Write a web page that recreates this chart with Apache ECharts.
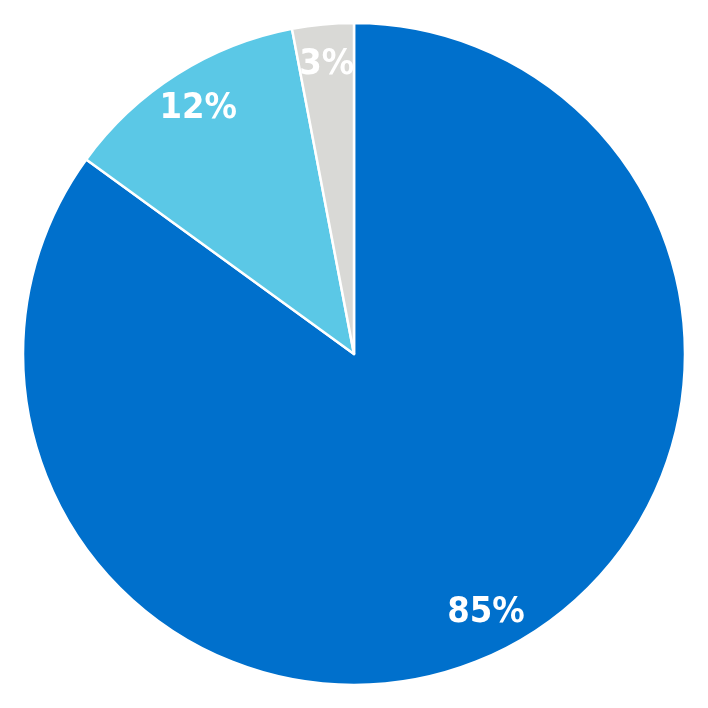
<!DOCTYPE html>
<html><head><meta charset="utf-8">
<script src="https://cdn.jsdelivr.net/npm/echarts@6/dist/echarts.min.js"></script>
<style>html,body{margin:0;padding:0;background:#fff}#c{width:708px;height:708px}</style>
</head><body><div id="c"></div>
<script>
const categories = ['A', 'B', 'C'];
const values = [85, 12, 3];
const colors = ['#0070CC', '#5BC8E6', '#D9D9D6'];

const data = categories.map((n, i) => ({ name: n, value: values[i], itemStyle: { color: colors[i] } }));
const chart = echarts.init(document.getElementById('c'));
const labelStyle = {
  show: true, position: 'inside', formatter: '{c}%', color: '#fff',
  fontFamily: '"DejaVu Sans Condensed", "DejaVu Sans", sans-serif',
  fontWeight: 'bold condensed', fontSize: 36
};
chart.setOption({
  animation: false,
  series: [{
    type: 'pie', center: ['50%', '50%'], radius: ['0%', '93.5%'],
    startAngle: 90, clockwise: true, silent: true,
    itemStyle: { borderColor: '#fff', borderWidth: 2.5 },
    label: { show: false }, labelLine: { show: false },
    data: data
  }, {
    type: 'pie', center: ['50%', '50%'], radius: ['69%', '93.5%'],
    startAngle: 90, clockwise: true, silent: true,
    itemStyle: { color: 'rgba(0,0,0,0)', borderWidth: 0 },
    label: labelStyle, labelLine: { show: false },
    data: categories.map((n, i) => ({ name: n, value: values[i], itemStyle: { color: 'rgba(0,0,0,0)' } }))
  }]
});
</script></body></html>
